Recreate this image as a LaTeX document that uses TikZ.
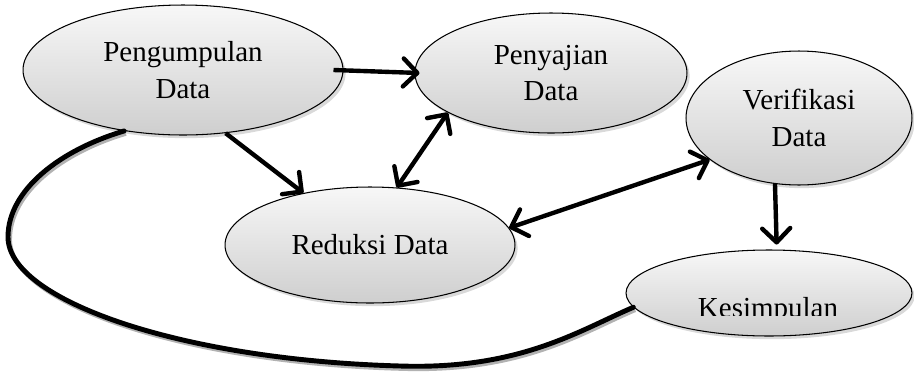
\documentclass[tikz,border=0pt]{standalone}
\usepackage{fontspec}
\setmainfont{Liberation Serif}
\usetikzlibrary{%
  arrows.meta,%
  shapes.geometric,% wg. ellipse
  shadows,%
  positioning%
}

\begin{document}
\begin{tikzpicture}
[x=0.02cm, y=-0.02cm, line width=2.5pt, >={Straight Barb[length=2.8mm,width=5.6mm,round]},
box/.style={ellipse, draw, line width=0.6pt, inner sep=0pt, align=center,
  top color=gray!6, bottom color=gray!38,
  drop shadow={opacity=0.3, shadow xshift=1.5pt, shadow yshift=-1.8pt},
  font=\fontsize{16.5}{21}\selectfont},
link/.style={draw=black, line width=2.5pt},
shadowed/.style={preaction={draw=black!30, transform canvas={shift={(1pt,-1.5pt)}}}}]

\useasboundingbox (0,0) rectangle (914,373);

\node[box, minimum width=6.4cm, minimum height=2.6cm] (kumpul) at (183,70) {Pengumpulan\\Data};
\node[box, minimum width=5.44cm, minimum height=2.4cm] (saji) at (551,73) {Penyajian\\Data};
\node[box, minimum width=4.52cm, minimum height=2.68cm] (verif) at (799,118) {Verifikasi\\Data};
\node[box, minimum width=5.8cm, minimum height=2.32cm] (reduksi) at (370,245) {Reduksi Data};
\node[box, minimum width=5.72cm, minimum height=1.72cm] (simpul) at (769,293) {};

% teks terpotong di bawah
\begin{scope}
\clip (626,250) rectangle (912,315);
\node[anchor=base, font=\fontsize{16.5}{21}\selectfont] (simpultxt) at (768,317) {Kesimpulan};
\end{scope}

\draw[link,->] ([xshift=-0.2cm]kumpul.east) -- ([xshift=0.1cm]saji.west);
\draw[link,->] (kumpul.304) -- (reduksi.142);
\draw[link,<->] (saji.201) -- (reduksi.65);
\draw[link,<->] (verif.205) -- (reduksi.7);
\draw[link,->] (verif.250) -- ([yshift=0.1cm]simpul.80);

% garis lengkung balik
\draw[link, line width=2.8pt, shadowed, line cap=round] (kumpul.226) .. controls (60,150) and (8,190) .. (8,237)
  .. controls (8,300) and (180,360) .. (400,366)
  .. controls (520,370) and (580,330) .. (simpul.186);

\end{tikzpicture}
\end{document}
